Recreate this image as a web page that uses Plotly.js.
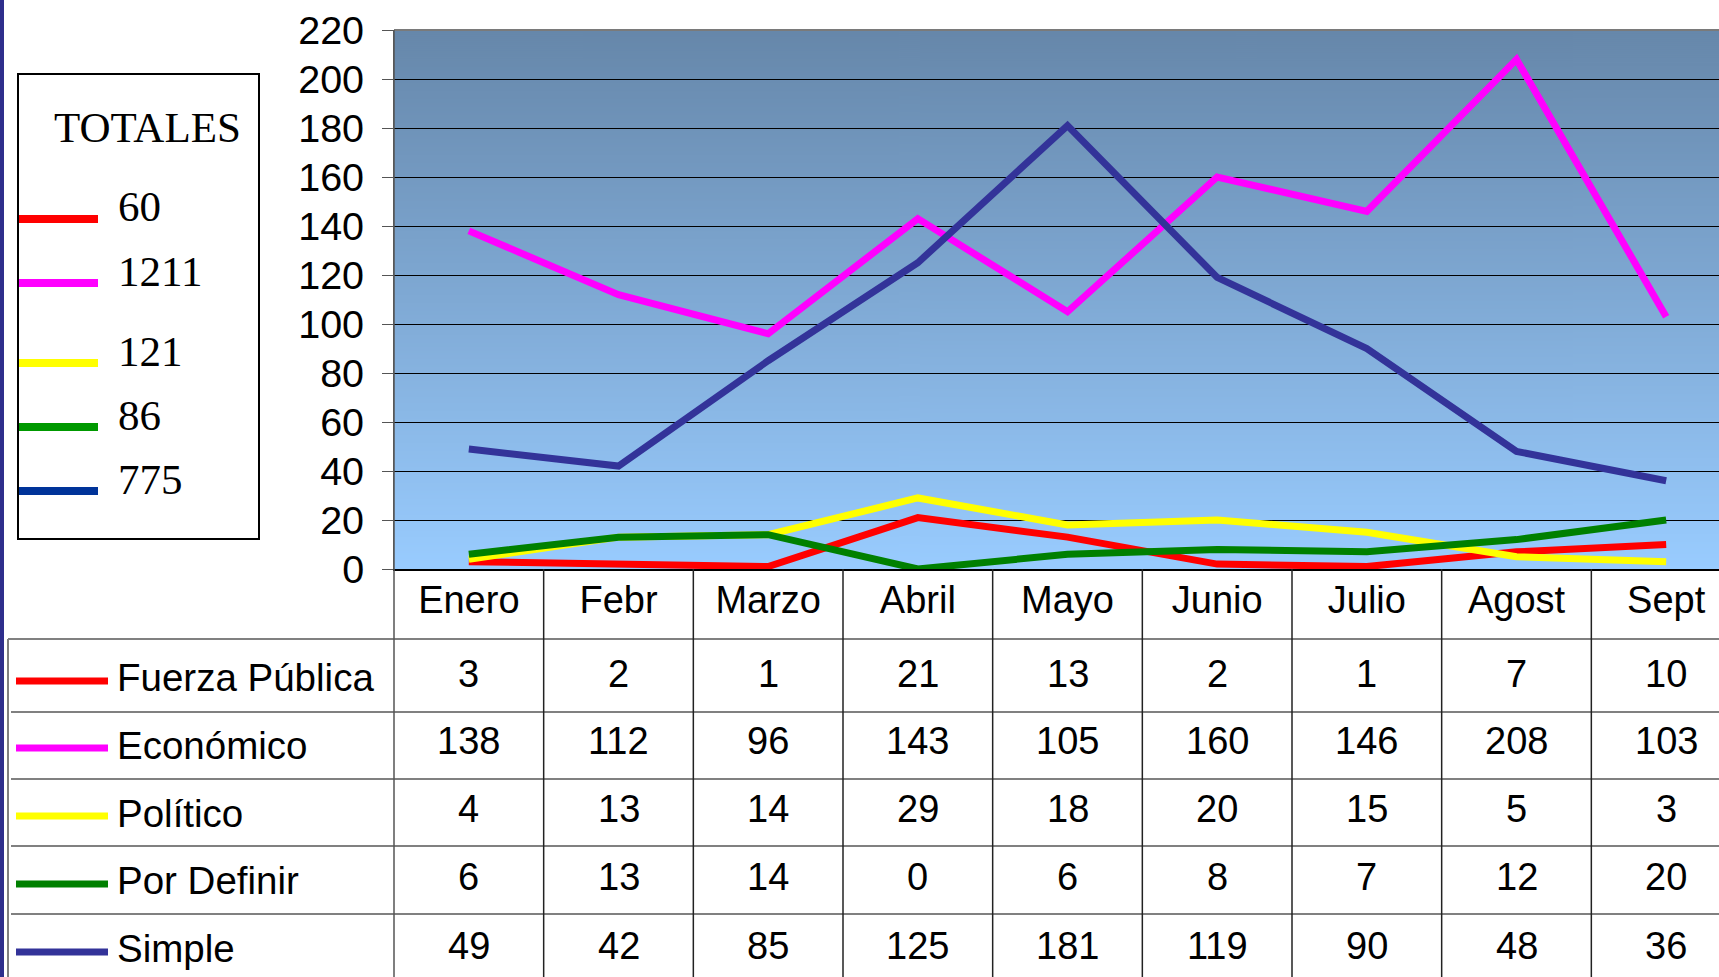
<!DOCTYPE html>
<html>
<head>
<meta charset="utf-8">
<script src="https://cdn.plot.ly/plotly-3.0.1.min.js"></script>
<style>
html,body{margin:0;padding:0;background:#fff;overflow:hidden;width:1719px;height:977px;}
#chart{width:1745px;height:977px;}
</style>
</head>
<body>
<div id="chart"></div>
<script>
// ---- data ----
const months = ['Enero','Febr','Marzo','Abril','Mayo','Junio','Julio','Agost','Sept'];
const fuerzaPublica = [3, 2, 1, 21, 13, 2, 1, 7, 10];
const economico     = [138, 112, 96, 143, 105, 160, 146, 208, 103];
const politico      = [4, 13, 14, 29, 18, 20, 15, 5, 3];
const porDefinir    = [6, 13, 14, 0, 6, 8, 7, 12, 20];
const simple        = [49, 42, 85, 125, 181, 119, 90, 48, 36];
const seriesNames   = ['Fuerza Pública', 'Económico', 'Político', 'Por Definir', 'Simple'];
const totales       = [60, 1211, 121, 86, 775];
const yTicks        = [0, 20, 40, 60, 80, 100, 120, 140, 160, 180, 200, 220];

// ---- styles ----
const lineColors   = ['#FF0000', '#FF00FF', '#FFFF00', '#008000', '#333399'];
const legendColors = ['#FF0000', '#FF00FF', '#FFFF00', '#009900', '#003399'];
const seriesData = [fuerzaPublica, economico, politico, porDefinir, simple];

// plot area in pixels
const PL = 394, PW = 1347, PT = 30, PH = 539;
const W = 1745, H = 977;
const px = x => (x - PL) / PW;
const py = y => (PT + PH - y) / PH;

// gradient background image
const cv = document.createElement('canvas');
cv.width = 4; cv.height = 540;
const cx = cv.getContext('2d');
const g = cx.createLinearGradient(0, 0, 0, 540);
g.addColorStop(0, '#6687AA');
g.addColorStop(1, '#99CCFF');
cx.fillStyle = g; cx.fillRect(0, 0, 4, 540);
const bgURL = cv.toDataURL();

const traces = seriesData.map((vals, k) => ({
  type: 'scatter', mode: 'lines', x: months, y: vals, name: seriesNames[k],
  line: {color: lineColors[k], width: 7}, hoverinfo: 'x+y+name'
}));

const shapes = [];
const annotations = [];
const font = (s, c) => ({family: 'Arial, Liberation Sans, sans-serif', size: s, color: c || '#000'});
const serif = s => ({family: 'Liberation Serif, Times New Roman, serif', size: s, color: '#000'});

// left dark stripe
shapes.push({type: 'rect', xref: 'paper', yref: 'paper', x0: px(0), x1: px(4), y0: py(0), y1: py(H),
  fillcolor: '#2E2E8C', line: {width: 0}});

// plot top border
shapes.push({type: 'line', xref: 'paper', yref: 'paper', x0: 0, x1: 1.01, y0: 1, y1: 1,
  line: {color: '#7A7A7A', width: 2}});

// legend box (TOTALES)
shapes.push({type: 'rect', xref: 'paper', yref: 'paper', x0: px(18), x1: px(259), y0: py(74), y1: py(539),
  fillcolor: '#FFFFFF', line: {color: '#000', width: 2}});
annotations.push({xref: 'paper', yref: 'paper', x: px(52), y: py(128), xanchor: 'left', yanchor: 'middle',
  text: 'TOTALES', showarrow: false, font: serif(43)});
const legLineY = [219, 283, 363, 427, 491];
const legTextY = [207, 271, 351, 415, 479];
totales.forEach((t, k) => {
  shapes.push({type: 'line', xref: 'paper', yref: 'paper', x0: px(19), x1: px(98), y0: py(legLineY[k]), y1: py(legLineY[k]),
    line: {color: legendColors[k], width: 8}});
  annotations.push({xref: 'paper', yref: 'paper', x: px(116), y: py(legTextY[k]), xanchor: 'left', yanchor: 'middle',
    text: String(t), showarrow: false, font: serif(43)});
});

// table grid
const rowLines = [639, 712, 779, 846, 914];
rowLines.forEach((y, i) => {
  shapes.push({type: 'line', xref: 'paper', yref: 'paper', x0: px(i === 0 ? 8 : 11), x1: px(W), y0: py(y), y1: py(y),
    line: {color: '#808080', width: 2}});
});
// left outer border
shapes.push({type: 'line', xref: 'paper', yref: 'paper', x0: px(8), x1: px(8), y0: py(639), y1: py(H + 5),
  line: {color: '#808080', width: 2}});
// column separators
for (let i = 0; i <= months.length; i++) {
  shapes.push({type: 'line', xref: 'paper', yref: 'paper', x0: i / months.length, x1: i / months.length,
    y0: i === 0 ? 1 : 0, y1: py(H + 5), line: {color: i === 0 ? '#555' : '#222', width: 1.5}});
}

// table rows
const keyY = [681, 748, 816, 884, 952];
const labelY = [677, 745, 813, 881, 948];
const numY = [674, 741, 809, 877, 946];
seriesNames.forEach((n, k) => {
  shapes.push({type: 'line', xref: 'paper', yref: 'paper', x0: px(16), x1: px(108), y0: py(keyY[k]), y1: py(keyY[k]),
    line: {color: lineColors[k], width: 7}});
  annotations.push({xref: 'paper', yref: 'paper', x: px(115), y: py(labelY[k]), xanchor: 'left', yanchor: 'middle',
    text: n, showarrow: false, font: font(38.5)});
  seriesData[k].forEach((v, i) => {
    annotations.push({xref: 'x', yref: 'paper', x: months[i], y: py(numY[k]), xanchor: 'center', yanchor: 'middle',
      text: String(v), showarrow: false, font: font(38)});
  });
});

const layout = {
  width: W, height: H,
  margin: {l: PL, r: W - PL - PW, t: PT, b: H - PT - PH, pad: 0},
  paper_bgcolor: '#FFFFFF', plot_bgcolor: 'rgba(0,0,0,0)',
  showlegend: false,
  xaxis: {type: 'category', range: [-0.5, 8.5], ticks: '', showgrid: false, zeroline: false,
    showline: true, linecolor: '#000', linewidth: 2, tickfont: font(38), ticklabelstandoff: -4,
    fixedrange: true},
  yaxis: {range: [0, 220], tickvals: yTicks, ticktext: yTicks.map(String), ticks: 'outside', ticklen: 11,
    tickcolor: '#555', tickwidth: 1, showgrid: true, gridcolor: '#000', gridwidth: 1, zeroline: false,
    showline: true, linecolor: '#666', linewidth: 1, tickfont: font(39.5), ticklabelstandoff: 10,
    fixedrange: true},
  images: [{source: bgURL, xref: 'paper', yref: 'paper', x: 0, y: 1, sizex: 1, sizey: 1,
    sizing: 'stretch', xanchor: 'left', yanchor: 'top', layer: 'below'}],
  shapes: shapes,
  annotations: annotations
};

Plotly.newPlot('chart', traces, layout, {displayModeBar: false, staticPlot: true});
</script>
</body>
</html>
